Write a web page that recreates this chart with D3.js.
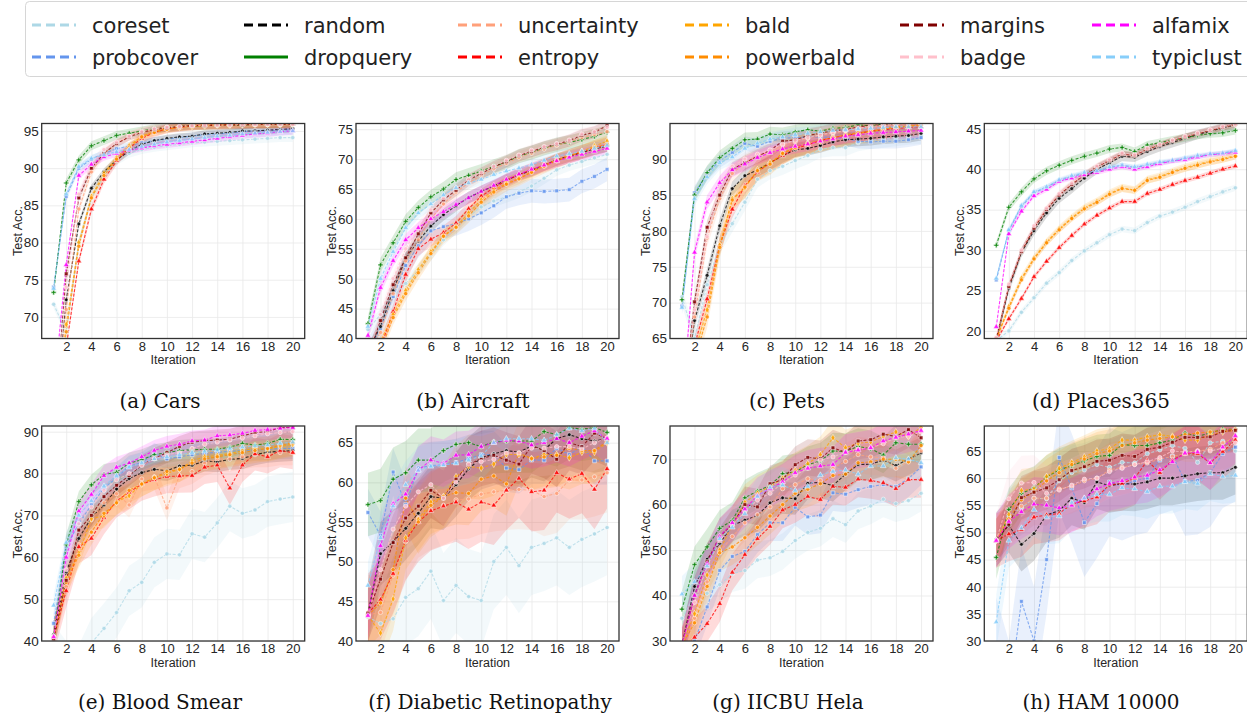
<!DOCTYPE html>
<html><head><meta charset="utf-8">
<script src="https://cdn.jsdelivr.net/npm/d3@7"></script>
<style>body{margin:0;background:#fff} svg{display:block}</style>
</head><body><svg id="c" width="1247" height="715"></svg>
<script>
const methods = ["coreset","probcover","random","dropquery","uncertainty","entropy","bald","powerbald","margins","badge","alfamix","typiclust"];
const colors  = ["#add8e6","#6495ed","#000000","#008000","#ffa07a","#ff0000","#ffa500","#ff8c00","#800000","#ffc0cb","#ff00ff","#87cefa"];
const legendOrder = ["coreset","random","uncertainty","bald","margins","alfamix","probcover","dropquery","entropy","powerbald","badge","typiclust"];
const iterations = [1,2,3,4,5,6,7,8,9,10,11,12,13,14,15,16,17,18,19,20];
const xTicks = [2,4,6,8,10,12,14,16,18,20];

const cars = {
  coreset:    [71.7,68,80,86,89,91,92,92.5,92.8,93,93.2,93.4,93.5,93.6,93.7,93.8,93.9,94,94.1,94.1],
  probcover:  [74,86.2,90,91.2,92,92.6,93,93.4,93.7,93.9,94.1,94.3,94.5,94.6,94.7,94.9,95,95,95.1,95.2],
  random:     [55,72.3,82.5,87.3,89.5,91.1,92.3,93.2,93.7,94,94.2,94.3,94.6,94.7,94.8,95,95,95.1,95.2,95.3],
  dropquery:  [73.3,88,91.1,93,93.7,94.4,94.7,95,95.3,95.5,95.6,95.7,95.7,95.8,95.8,95.8,95.9,95.9,95.9,95.9],
  uncertainty:[55,71,84.5,89.5,92,93.3,94.3,94.9,95.2,95.5,95.6,95.7,95.8,95.8,95.8,95.9,95.9,95.9,95.9,95.9],
  entropy:    [55,66,77.5,84.5,88.5,91,92.7,94,94.8,95.3,95.5,95.7,95.8,95.8,95.9,95.9,95.9,95.9,95.9,95.9],
  bald:       [55,69,80,86.2,89.3,91.4,93,94.3,94.9,95.3,95.5,95.6,95.7,95.8,95.8,95.9,95.9,95.9,95.9,95.9],
  powerbald:  [55,68,79.5,86,89,91.2,92.8,94.2,94.8,95.2,95.5,95.7,95.8,95.8,95.9,95.9,95.9,95.9,95.9,95.9],
  margins:    [55,75.8,86,90,92,93.3,94.2,94.8,95.2,95.4,95.6,95.7,95.7,95.8,95.8,95.8,95.9,95.9,95.9,95.9],
  badge:      [55,74,86.5,90.5,92.5,93.5,94.3,94.9,95.3,95.5,95.6,95.7,95.8,95.8,95.8,95.9,95.9,95.9,95.9,95.9],
  alfamix:    [60,77,89,90.5,91.5,92,92.4,92.7,93,93.2,93.4,93.6,93.8,94,94.2,94.4,94.6,94.7,94.9,95],
  typiclust:  [73.8,86.5,90.2,91.3,91.8,92.2,92.5,92.9,93.2,93.5,93.7,93.9,94.1,94.3,94.4,94.6,94.7,94.8,94.9,95]
};
const aircraft = {
  coreset:    [41.5,44,47,49.2,51.5,54,56.5,58.5,60.5,62,63,63.7,64.5,65.5,66.8,68.2,69,69.6,70.2,70.8],
  probcover:  [38,41.7,47,52.2,55.5,58,58.7,59.2,60,61,62.2,63.7,64.3,64.7,64.6,64.7,64.9,66.3,67.1,68.3],
  random:     [38,42,48,53.4,56.3,58.8,60.7,62.2,63.6,64.6,65.5,66.5,67.4,68.1,69,69.9,70.5,71.1,71.7,72.2],
  dropquery:  [42.5,52.3,56,59.6,61.9,63.7,65,66.6,67.3,68,68.8,69.5,70.5,71.1,71.8,72.4,72.8,73.3,73.8,74.5],
  uncertainty:[37,41,47.5,53,56.5,60,62.5,64.5,66,67.3,68.4,69.3,70.3,71,71.7,72.3,72.9,73.6,74.1,74.6],
  entropy:    [35,38.5,44.5,50.7,55,56.6,57.7,59.3,61.7,63.8,65.2,66.4,67.4,68.2,69,69.8,70.5,71.2,71.8,72.4],
  bald:       [35,39.5,44,48,51.5,54.5,57.2,58.7,61,63.2,64.8,66,66.8,67.9,69,69.9,70.6,71.3,72.2,73],
  powerbald:  [35,38,43.5,47.5,51,54.2,57.1,58.6,60.5,62.8,64.5,65.8,66.7,67.8,68.8,69.7,70.5,71.2,72,72.5],
  margins:    [37,43,49,53.5,57.5,61,63.2,64.8,66.5,67.6,68.7,69.6,70.6,71.3,72,72.5,73.1,74,74.5,75.6],
  badge:      [37,44,50,55,58.5,61.5,63.5,65.2,66.6,67.8,68.8,69.8,70.7,71.5,72.1,72.6,73.2,74.2,74.6,75.3],
  alfamix:    [40.5,48.5,53,56.5,58.5,60,61.2,62.4,63.5,64.6,65.6,66.6,67.5,68.3,69,69.7,70.3,70.8,71.3,71.8],
  typiclust:  [42,50,54.5,58.5,61,62.5,64,65.2,66,66.6,67.4,68,68.5,69.1,69.8,70.5,70.9,71.3,71.8,72.3]
};
const pets = {
  coreset:    [70.8,65,72.5,78,81,84,87.2,88.4,89,89.8,90.5,91.4,91.6,91.6,92.3,92.6,92.8,93,93.2,93.3],
  probcover:  [69.5,85.3,88,89.8,90.9,92.2,91.8,92.5,92.9,93,93.1,93.1,93,92.9,92.5,92.4,92.5,92.5,92.7,93],
  random:     [55,67.5,73.8,80.7,85.9,87.7,88.5,89.5,90.5,91.3,91.5,91.9,92.4,92.7,92.8,92.9,93.1,93.2,93.3,93.6],
  dropquery:  [70.4,85,88.1,90.2,91.5,92.7,92.8,93.5,93.4,93.8,94.1,93.9,94.3,94.4,94.8,94.6,94.9,95,95,95],
  uncertainty:[55,68,79,84.5,88,89.5,90.5,91,92,92.4,92.9,93.3,93.6,93.9,94.2,94.4,94.6,94.8,94.9,94.9],
  entropy:    [55,64,70.5,78,83,86.3,88.2,89.5,90.5,91.5,92,92.6,93,93.3,93.6,93.9,94.1,94.3,94.4,94.5],
  bald:       [55,63,69,78,84.5,86,88.5,89.5,90.8,91.7,92.2,92.5,93,93.3,93.6,93.8,94.2,94.5,94.6,94.8],
  powerbald:  [55,62,68,77.7,84.3,86.1,88.4,89.3,90.8,91.6,92.2,92.6,93,93.4,93.7,93.9,94.2,94.4,94.6,94.7],
  margins:    [55,70.1,80.5,85,88.6,89.5,90.4,91.2,92.5,92.7,93.3,93.6,94,94.1,94.5,94.7,94.8,95,95,95],
  badge:      [55,69,79.2,86.7,89,90,90.7,91.3,92.1,92.6,93,93.4,93.7,94,94.3,94.6,94.7,94.9,95,95],
  alfamix:    [55,77,84,86.7,88.5,89.3,90.2,90.9,91.4,91.8,92.1,92.5,92.8,93.2,93.4,93.6,93.7,93.8,93.9,94],
  typiclust:  [69.3,84.5,87.5,89.5,90.3,91.5,92.2,92.8,93.1,93.4,93.6,93.8,94,94.1,94.2,94.3,94.4,94.5,94.5,94.5]
};
const places = {
  coreset:    [18.8,20,22.3,24.1,25.9,27.2,28.7,29.9,30.9,31.9,32.6,32.4,33.4,34.2,34.7,35.3,36,36.6,37.2,37.7],
  probcover:  [26.3,32.4,35.4,37.1,37.8,38.6,39.1,39.5,39.8,40.2,40.5,40.2,40.5,40.8,41,41.3,41.6,41.8,42,42.2],
  random:     [18.8,25.3,29.7,32.4,34.6,36.4,37.6,38.9,40,40.8,41.6,41.5,42.2,42.8,43.3,43.8,44.3,44.7,45.1,45.5],
  dropquery:  [30.6,35.3,37.2,38.8,39.8,40.5,41.1,41.6,42,42.5,42.7,42.2,43,43.3,43.6,43.9,44.2,44.4,44.5,44.8],
  uncertainty:[19,25.5,29.8,32.8,35.1,36.9,38.2,39.3,40.3,41.1,41.9,41.7,42.5,43,43.6,44,44.4,44.8,45.2,45.5],
  entropy:    [18.8,21.5,24,26.7,28.6,30.3,31.8,33.2,34.3,35.2,36,36,37,37.5,38.1,38.6,39,39.5,40,40.4],
  bald:       [19,23,26.5,29,31,32.6,34,35.2,36,37,37.7,37.4,38.7,39.1,39.7,40.2,40.6,41,41.3,41.7],
  powerbald:  [19,22.8,26.3,28.9,30.9,32.5,33.9,35.1,35.9,36.9,37.6,37.4,38.6,39,39.6,40.1,40.5,40.9,41.2,41.6],
  margins:    [19,25.5,29.8,32.7,35,36.8,38.1,39.3,40.3,41.1,41.9,41.7,42.5,43,43.5,44,44.4,44.8,45.2,45.6],
  badge:      [19.2,25.8,30,33,35.2,37,38.3,39.4,40.4,41.2,42,41.8,42.6,43.1,43.6,44.1,44.5,44.9,45.3,45.6],
  alfamix:    [20.5,32,34.8,36.7,37.5,38.5,38.9,39.3,39.6,40,40.3,40,40.3,40.7,41,41.2,41.5,41.8,41.9,42.1],
  typiclust:  [26.5,32.5,35.5,37.2,37.8,38.7,39.2,39.6,39.8,40.3,40.5,40.3,40.6,40.9,41.1,41.4,41.7,41.9,42,42.3]
};
const blood = {
  coreset:    [38,34,33,39.5,43,46.8,52,54,58.8,60.8,60.6,65.6,64.8,68.2,72.2,70.5,71.3,73.3,73.9,74.4],
  probcover:  [44.2,62.5,68,72.5,76.5,79,81.8,82.6,84.8,83.5,84,84.5,84.8,85.1,85.3,85.5,85.6,85.8,86,86],
  random:     [41.5,56.5,64.5,69.5,72.5,76.3,78.8,80.2,81,80.7,81.8,82,83,82.8,83.4,83.6,84.5,85.1,85.3,85.5],
  dropquery:  [41,63,73.3,77.3,79.8,80.3,82.5,83.3,84.5,85,85.5,85.7,85.8,85.8,86.3,87.2,86.8,87.2,88.2,88.1],
  uncertainty:[41,53,63,69,73,75.2,72.5,78.7,79.2,71.8,79.5,80.5,82.5,83.5,83.5,84,84.5,84.5,85,85],
  entropy:    [40.8,52,62.5,64.5,69.5,73.5,75.5,77.5,78.5,79.3,79.4,79.5,81.5,82,76.5,82,84.7,84,85.5,85],
  bald:       [41,55,61,69.2,70,73.2,74.7,77.5,79,80,81,83,84,84.3,84.8,85.5,86,85.8,86.5,87],
  powerbald:  [41,54,60.5,66,70.5,73,76,77.5,79,80.5,81,82.5,83.5,84,84.5,85,85.5,86,86.8,87.3],
  margins:    [40.5,54.5,66.5,70,74.5,77.2,79.5,82,83.6,85,86.5,87.5,87.8,88,88.2,89,89.8,90,91,91],
  badge:      [41,57,68,72,76,78.5,80,82,83.5,84.5,85,86,87,87.5,88,88.5,89,89.5,89.8,90],
  alfamix:    [41,60,71,75,79.5,81.5,82.5,84,85.5,86.5,87,87.8,88,89,89.2,89.6,90.3,90.5,90.8,91],
  typiclust:  [48.5,63.5,70,73.5,77,79.5,81.5,82.5,83.5,84,84.5,85,85.3,85.6,86,86.3,86.6,86.8,87.2,87.5]
};
const retino = {
  coreset:    [43,42.2,42.8,45.5,46.6,48.8,45.1,47,45.6,45.1,50,51.8,49.5,51.8,52.3,53,51.8,52.8,53.5,54.3],
  probcover:  [56.2,53.3,61.3,57.2,61.8,62.1,62.2,62.5,63,63.5,63.5,61.8,61.6,62.8,62.8,64.3,63.5,64.5,62.7,62.7],
  random:     [43.5,51,52.5,54.2,56.1,58.2,58,59.7,61.7,63.1,63.6,64,63.8,64.6,64.1,65.5,66,65.5,65.2,65.5],
  dropquery:  [57.2,57.7,60.4,61.2,62.8,62.8,64,64.8,65,64.5,65.1,65.2,65.2,65.2,66.4,66,66.9,66.7,66.9,66.3],
  uncertainty:[43.3,43.6,48.3,52.5,55.5,56.5,57.1,57.8,57.9,58.5,58.8,59,59.1,59,58.2,58.6,60.3,60.3,60.7,61.2],
  entropy:    [43.5,45.2,48.5,52.7,55,56.4,57,57.5,56.6,57.5,57.1,59,60.5,58.8,59,61.2,60.4,61.1,59.1,61.7],
  bald:       [43.2,41,45.3,53,55.3,57.5,58.2,60.7,62,61.8,62.3,63.5,63.5,63,63.5,63.5,63.1,63.8,63.8,65],
  powerbald:  [43.2,44.8,49,58,55,57.1,58.2,58.7,58.6,60.4,60.8,59.8,63.7,63,63.2,63.4,64.3,64,64,65.2],
  margins:    [43.5,47.8,52.4,55.5,57,59,58,60.4,62.2,63,63.4,62.8,62.3,64.6,64,62.9,65,64.5,66.2,65.5],
  badge:      [43.2,49,54.1,57,58.8,59.7,58,60,62.3,62.6,62.9,63.7,63.7,64.3,64.3,64.5,64.5,64.2,65,65.6],
  alfamix:    [43.2,52,57.3,58.5,61.5,62.8,62.4,63.4,63.5,64.5,65,65.3,65.2,64.7,65,65.5,65,65.8,66.5,65.5],
  typiclust:  [47,53,57,59.7,61.5,62,62.2,62.4,62.8,63.3,65,65.5,65.5,65.5,65.3,66,66.8,66.5,66.8,65]
};
const hela = {
  coreset:    [35,40,40.5,42.4,44.8,45.5,47.8,48.3,49.7,52.1,53.9,54.8,56.9,55.6,58.6,59.7,61.2,60.2,60.9,62.5],
  probcover:  [29,30,37.5,45.5,48.6,49.7,53.4,56,56,59.4,57.3,57.7,62.6,62.3,63.3,64,64.4,64,65.7,68.3],
  random:     [29,42,48,51.5,55.4,56.6,57.6,60.4,61.5,61.3,64.7,64.9,64.2,66.7,68.8,68.9,69.8,68.6,70,71.4],
  dropquery:  [37,46.8,50.7,54.8,56.5,61.5,63,64.2,66.8,67.2,68.8,69.6,71.8,71.7,72.8,72.3,70.9,73.6,73.3,73.3],
  uncertainty:[29,35,43,49.5,53,56,57.8,59.5,63.5,64.4,65.7,65.3,68,69.5,71,70.5,70.3,68,69.5,71.8],
  entropy:    [28,30.8,33.8,38.2,45.1,49,52.5,55.2,58.8,60,61.8,61.1,64,63.8,65.6,65.3,64.8,63.5,65.5,65.5],
  bald:       [29,36,44.5,50,55.5,60.5,62.5,64,65.8,67.5,69,71,74.7,72.5,73.5,73.8,75,76,75,77],
  powerbald:  [29,34,42,49.4,50.7,52.7,55,57.5,60,62.5,63.4,64.6,66.4,66.7,69.2,69.4,70,70,69.4,73],
  margins:    [29,40,47.5,53,55.7,60,59.5,64.6,65.5,68.8,70.4,70.1,72.5,71.5,74,74.3,75.5,75,76.5,74.7],
  badge:      [29,38.5,46.5,52,55.5,58.5,61,62.5,64.8,66.5,68,69.8,70.5,71.5,72.2,72.5,73.4,74.8,75,76],
  alfamix:    [29,40,47,53,56,59,62,63.5,65,67,68,68.5,68.8,71.5,72,72.5,74,74.8,75.5,76.3],
  typiclust:  [40.3,43,46.5,52.5,55,58,61.8,63.8,64.3,63.1,64,66.5,67.3,67.6,66.7,68.5,68.5,70.3,70,69.2]
};
const ham = {
  coreset:    [48.5,53,54.5,56.3,56.2,59.5,61,61.5,62.5,62,62.9,62.8,64.5,65.2,66,65.5,62.9,66.5,66.8,65],
  probcover:  [28,20,37.3,30,45,63.8,58.2,51.8,55.3,59.3,58.5,59.5,60,63.3,64.1,59.4,59.6,61,64.5,65.7],
  random:     [48.7,51.3,47.8,49.8,53.2,54,56.3,55.5,59.3,58.6,59,58.9,59.3,60,60,60.4,60.8,61,61,62],
  dropquery:  [45.4,54.2,57.2,58.2,60.2,61.5,62.3,63.2,64,64.2,66.2,66,66,66.5,67,68.3,67.7,68.3,69,69],
  uncertainty:[48.5,52,54.8,56.3,56.3,58,58.5,59.5,60,61.5,62,62.5,62.8,63.5,64,64.5,65,65.3,66.5,67.5],
  entropy:    [48.5,49.7,50.5,52.8,53.2,53.5,55.2,55.8,56.5,58.8,59,60,63.2,61,63.3,64.5,64.5,62.8,64.9,67],
  bald:       [48.5,53.3,57.7,58,60.3,61.8,62.9,63.9,65,65.4,67,67,67.6,68,67.7,67,67,68,68.5,68.8],
  powerbald:  [48.5,52.5,56,57.5,59.5,61,62.5,63.5,64.5,65,66,66.5,67,67.3,67.6,68,68.3,68.5,68.8,69],
  margins:    [48.5,51.5,56.4,57.4,58.2,59.7,61.4,62.1,63.1,63.3,64.2,64,65.3,65.7,66.6,67.5,67.5,67.6,68.6,68.8],
  badge:      [48.5,56.2,59.1,59.2,57.2,57.8,58.7,59.8,60,61.2,61.8,62.5,63,63.8,65,64.8,65,65,65.5,66.5],
  alfamix:    [48.5,52,53.8,55.2,55,54.5,55,56.3,58,59,59.5,60.2,60.5,61.5,63,64.6,64.8,62.8,65.7,67.8],
  typiclust:  [33.5,48.5,50.8,54.2,52.8,53,55.5,56.3,57,57,58.2,58,57.5,58.5,58.5,59.3,59,60.8,60.3,60.5]
};
// half-width of shaded confidence band, per method (same order as methods)
const carsBand     = [0.6,0.5,0.5,0.6,0.6,0.6,0.5,0.5,0.5,0.6,0.5,0.5];
const aircraftBand = [1.0,2.0,1.0,1.2,1.0,1.2,1.0,1.2,1.0,1.0,1.0,1.0];
const petsBand     = [1.2,1.0,1.0,1.0,1.2,1.2,1.5,1.5,1.0,1.0,1.0,1.0];
const placesBand   = [0.4,0.3,0.6,0.5,0.4,0.3,0.5,0.4,0.4,0.4,0.3,0.3];
const bloodBand    = [6,2.5,2.5,2.5,3,4,3,3,2.5,2.5,2.5,2.5];
const retinoBand   = [6,3,4,4,5,5,4,4,3.5,3.5,3,3];
const helaBand     = [4,4,3.5,4,4,4,4,4,4,4,4,4];
const hamBand      = [5,10,5,4,5,5,4,4,4,5,5,5];

const titles = ["(a) Cars","(b) Aircraft","(c) Pets","(d) Places365","(e) Blood Smear","(f) Diabetic Retinopathy","(g) IICBU Hela","(h) HAM 10000"];
const datasets = [cars,aircraft,pets,places,blood,retino,hela,ham];
const bands = [carsBand,aircraftBand,petsBand,placesBand,bloodBand,retinoBand,helaBand,hamBand];
const yDomains = [[67.1,96.0],[40,75.96],[65,94.97],[19.06,45.66],[40,91.36],[40,67.1],[30,77.3],[30,69.6]];
const yTicks = [[70,75,80,85,90,95],[40,45,50,55,60,65,70,75],[65,70,75,80,85,90],[20,25,30,35,40,45],
                [40,50,60,70,80,90],[40,45,50,55,60,65],[30,40,50,60,70],[30,35,40,45,50,55,60,65]];

// layout
const colLeft = [41.7,356,670,984.3];
const plotW = 263;
const rowTop = [123.5,426];
const plotH = 215;
const captionX = [[160,473,787,1101],[160,490,788,1101]];
const captionY = [408,709];

const symbolTypes = {
  coreset:d3.symbolCircle, probcover:d3.symbolSquare, random:d3.symbolCircle, dropquery:d3.symbolCross,
  uncertainty:d3.symbolCircle, entropy:d3.symbolTriangle, bald:d3.symbolDiamond, powerbald:d3.symbolCircle,
  margins:d3.symbolSquare, badge:d3.symbolCircle, alfamix:d3.symbolTriangle, typiclust:d3.symbolTriangle
};
const color = d3.scaleOrdinal(methods, colors);
const svg = d3.select("#c");

// Legend
const lg = svg.append("g");
lg.append("rect").attr("x",25.5).attr("y",1.5).attr("width",1240).attr("height",75).attr("rx",4)
  .attr("fill","#fff").attr("stroke","#d6d6d6").attr("stroke-width",1);
const legText = [92,304,518,745,960,1152];
const legRow = [25,57];
legendOrder.forEach((m,i)=>{
  const c = i%6, r = Math.floor(i/6);
  const g = lg.append("g").attr("transform",`translate(${legText[c]},${legRow[r]})`);
  g.append("line").attr("x1",-60).attr("x2",-16).attr("y1",0).attr("y2",0)
    .attr("stroke",color(m)).attr("stroke-width",3)
    .attr("stroke-dasharray", m==="dropquery" ? null : "9,5");
  g.append("text").attr("x",0).attr("y",7.5).text(m)
    .attr("font-family","DejaVu Sans").attr("font-size",21).attr("fill","#222");
});

datasets.forEach((data,p)=>{
  const r = Math.floor(p/4), c = p%4;
  const x0 = colLeft[c], y0 = rowTop[r];
  const g = svg.append("g").attr("transform",`translate(${x0},${y0})`);
  const x = d3.scaleLinear().domain([0.05,20.95]).range([0,plotW]);
  const y = d3.scaleLinear().domain(yDomains[p]).range([plotH,0]);
  const clipId = "clip"+p;
  g.append("clipPath").attr("id",clipId).append("rect").attr("width",plotW).attr("height",plotH);

  // grid
  g.append("g").call(d3.axisBottom(x).tickValues(xTicks).tickSize(plotH).tickFormat(""))
    .call(a=>{a.select(".domain").remove(); a.selectAll("line").attr("stroke","#e8e8e8").attr("stroke-width",0.8);});
  g.append("g").call(d3.axisLeft(y).tickValues(yTicks[p]).tickSize(-plotW).tickFormat(""))
    .call(a=>{a.select(".domain").remove(); a.selectAll("line").attr("stroke","#e8e8e8").attr("stroke-width",0.8);});

  const body = g.append("g").attr("clip-path",`url(#${clipId})`);
  // bands
  methods.forEach((m,k)=>{
    const vals = data[m], h = bands[p][k];
    const area = d3.area().x((d,i)=>x(iterations[i])).y0(d=>y(d-h)).y1(d=>y(d+h));
    body.append("path").attr("d",area(vals)).attr("fill",color(m)).attr("fill-opacity",0.14).attr("stroke","none");
  });
  // lines
  methods.forEach(m=>{
    const vals = data[m];
    const line = d3.line().x((d,i)=>x(iterations[i])).y(d=>y(d));
    body.append("path").attr("d",line(vals)).attr("fill","none").attr("stroke",color(m))
      .attr("stroke-width",1.1).attr("stroke-opacity",0.75).attr("stroke-dasharray","3,1.6");
  });
  // markers
  methods.forEach(m=>{
    const sym = d3.symbol().type(symbolTypes[m]).size(m==="random"?11:14);
    body.selectAll(null).data(data[m]).join("path")
      .attr("transform",(d,i)=>`translate(${x(iterations[i])},${y(d)})`)
      .attr("d",sym).attr("fill",color(m)).attr("fill-opacity",0.85).attr("stroke","#fff").attr("stroke-width",0.5);
  });

  // frame
  g.append("rect").attr("width",plotW).attr("height",plotH).attr("fill","none").attr("stroke","#333").attr("stroke-width",1.3);

  // tick labels
  const ax = g.append("g").attr("transform",`translate(0,${plotH})`)
    .call(d3.axisBottom(x).tickValues(xTicks).tickSize(0).tickPadding(3));
  ax.select(".domain").remove();
  ax.selectAll("text").attr("font-family","Liberation Sans, Arial").attr("font-size",13).attr("fill","#262626");
  const ay = g.append("g").call(d3.axisLeft(y).tickValues(yTicks[p]).tickSize(0).tickPadding(3));
  ay.select(".domain").remove();
  ay.selectAll("text").attr("font-family","Liberation Sans, Arial").attr("font-size",13.5).attr("fill","#262626");

  g.append("text").attr("x",plotW/2).attr("y",plotH+25.5).attr("text-anchor","middle")
    .attr("font-family","Liberation Sans, Arial").attr("font-size",12.5).attr("fill","#262626").text("Iteration");
  g.append("text").attr("transform",`translate(-20,${plotH/2}) rotate(-90)`).attr("text-anchor","middle")
    .attr("font-family","Liberation Sans, Arial").attr("font-size",12.5).attr("fill","#262626").text("Test Acc.");

  svg.append("text").attr("x",captionX[r][c]).attr("y",captionY[r]).attr("text-anchor","middle")
    .attr("font-family","DejaVu Serif").attr("font-size",20).attr("fill","#111").text(titles[p]);
});
</script></body></html>
